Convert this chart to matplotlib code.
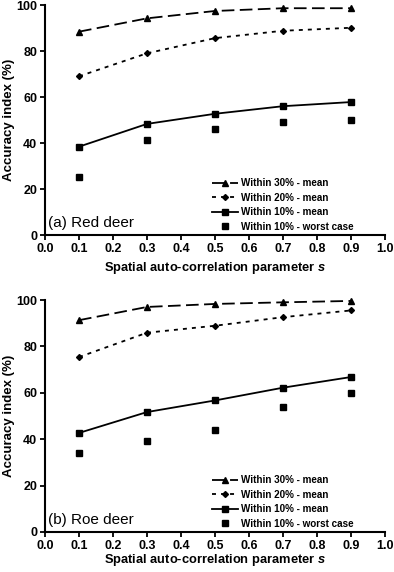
import matplotlib
matplotlib.use("Agg")
import matplotlib.pyplot as plt

plt.rcParams['font.family'] = ['Liberation Sans', 'DejaVu Sans']
plt.rcParams['mathtext.fontset'] = 'custom'
plt.rcParams['mathtext.it'] = 'Liberation Sans:italic:bold'
plt.rcParams['mathtext.rm'] = 'Liberation Sans:bold'

s_values = [0.1, 0.3, 0.5, 0.7, 0.9]

red_w30_mean = [88.4, 94.2, 97.4, 98.6, 98.6]
red_w20_mean = [69.0, 79.0, 85.6, 88.8, 90.1]
red_w10_mean = [38.4, 48.3, 52.7, 56.0, 57.8]
red_w10_worst = [25.2, 41.2, 46.1, 49.1, 50.0]

roe_w30_mean = [91.3, 97.0, 98.3, 99.0, 99.6]
roe_w20_mean = [75.4, 85.9, 88.9, 92.6, 95.5]
roe_w10_mean = [42.7, 51.7, 56.7, 62.2, 66.8]
roe_w10_worst = [34.2, 39.1, 43.9, 54.0, 60.1]

panel_titles = ['(a) Red deer', '(b) Roe deer']
legend_labels = ['Within 30% - mean', 'Within 20% - mean', 'Within 10% - mean', 'Within 10% - worst case']
x_ticks = [0.0, 0.1, 0.2, 0.3, 0.4, 0.5, 0.6, 0.7, 0.8, 0.9, 1.0]
y_ticks = [0, 20, 40, 60, 80, 100]

W, H = 394, 572
fig = plt.figure(figsize=(W / 100, H / 100), dpi=100)

def rect(l, t, r, b):
    return [l / W, 1 - b / H, (r - l) / W, (b - t) / H]

axes = [fig.add_axes(rect(45, 5, 385, 235)), fig.add_axes(rect(45, 300, 385, 532))]
datasets = [
    (red_w30_mean, red_w20_mean, red_w10_mean, red_w10_worst),
    (roe_w30_mean, roe_w20_mean, roe_w10_mean, roe_w10_worst),
]
xlabel_pads = [4, 0.5]

for ax, (d30, d20, d10, dw), title, xpad in zip(axes, datasets, panel_titles, xlabel_pads):
    ax.plot(s_values, d30, color='black', lw=1.3, ls=(0, (7, 3)), marker='^', ms=5, label=legend_labels[0])
    ax.plot(s_values, d20, color='black', lw=1.3, ls=(0, (2.2, 2.8)), marker='D', ms=3, label=legend_labels[1])
    ax.plot(s_values, d10, color='black', lw=1.3, ls='-', marker='s', ms=5, label=legend_labels[2])
    ax.plot(s_values, dw, color='black', lw=0, marker='s', ms=5, label=legend_labels[3])
    ax.set_xlim(0, 1.0)
    ax.set_ylim(0, 100)
    ax.set_xticks(x_ticks)
    ax.set_xticklabels([f'{v:.1f}' for v in x_ticks])
    ax.set_yticks(y_ticks)
    ax.spines['top'].set_visible(False)
    ax.spines['right'].set_visible(False)
    for sp in ('left', 'bottom'):
        ax.spines[sp].set_linewidth(1.5)
        ax.spines[sp].set_clip_on(False)
    ax.tick_params(direction='out', length=3.5, width=1.3, labelsize=9, pad=2)
    for lab in ax.get_xticklabels() + ax.get_yticklabels():
        lab.set_fontweight('bold')
    ax.set_xlabel('Spatial auto-correlation parameter $s$', fontsize=9.3, fontweight='bold', labelpad=xpad)
    ax.set_ylabel('Accuracy index (%)', fontsize=9.5, fontweight='bold', labelpad=1)
    ax.text(0.01, 0.02, title, transform=ax.transAxes, fontsize=11, ha='left', va='bottom')
    ax.legend(loc='lower left', bbox_to_anchor=(0.49, 0.015), frameon=False,
              prop={'size': 7.1, 'weight': 'bold'}, handlelength=2.7, handletextpad=0.25,
              labelspacing=0.45, borderaxespad=0, borderpad=0)
    for c in ax.lines:
        c.set_clip_on(False)

fig.savefig('out.png', dpi=100)
